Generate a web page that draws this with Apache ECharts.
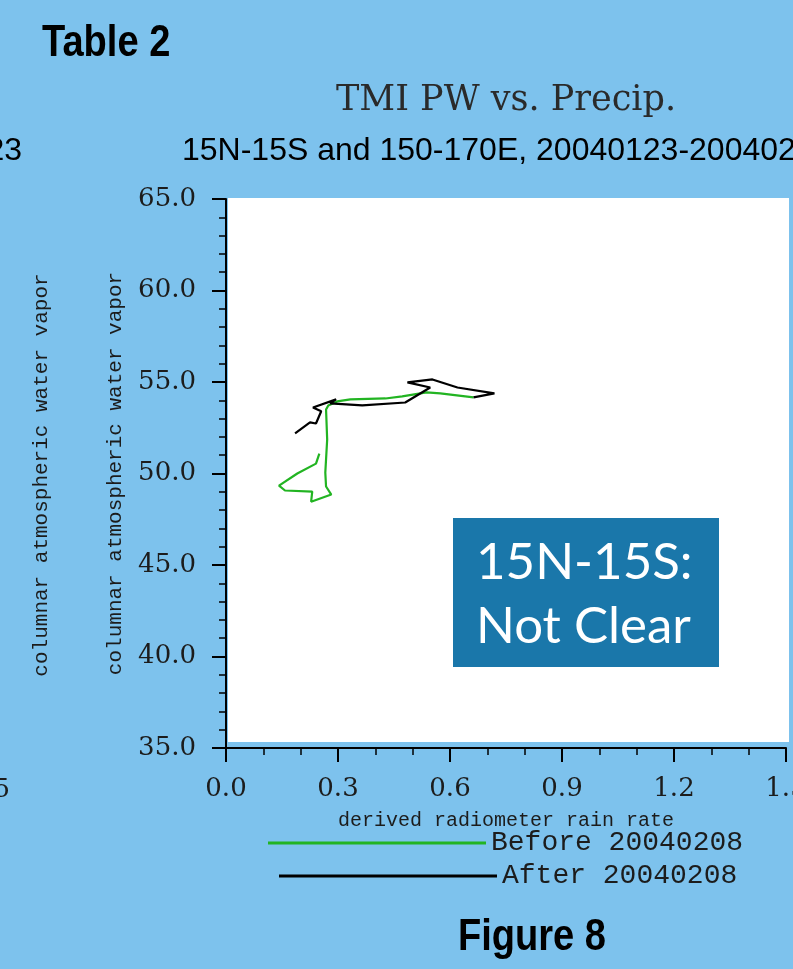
<!DOCTYPE html>
<html>
<head>
<meta charset="utf-8">
<script src="https://cdn.jsdelivr.net/npm/echarts@6/dist/echarts.min.js"></script>
<style>
html,body{margin:0;padding:0;background:#7dc2ed;}
#chart{width:793px;height:969px;}
</style>
</head>
<body>
<div id="chart"></div>
<script>
// ---- data ----
const seriesNames = ['Before 20040208', 'After 20040208'];
// derived radiometer rain rate (x) / columnar atmospheric water vapor (y)
const beforeX = [0.250, 0.241, 0.191, 0.142, 0.158, 0.231, 0.228, 0.282, 0.268, 0.266, 0.271, 0.268, 0.274, 0.298, 0.333, 0.427, 0.472, 0.537, 0.574, 0.663];
const beforeY = [51.09, 50.54, 50.00, 49.34, 49.07, 49.01, 48.46, 48.85, 49.29, 50.05, 51.86, 53.50, 53.72, 53.94, 54.05, 54.10, 54.21, 54.43, 54.38, 54.16];
const afterX = [0.663, 0.719, 0.620, 0.553, 0.486, 0.547, 0.480, 0.365, 0.279, 0.295, 0.233, 0.255, 0.241, 0.225, 0.185];
const afterY = [54.16, 54.38, 54.70, 55.14, 54.98, 54.70, 53.88, 53.72, 53.83, 54.05, 53.61, 53.40, 52.73, 52.79, 52.19];
const xTicks = { min: 0, max: 1.5, interval: 0.3, minorSplit: 3 };
const yTicks = { min: 35, max: 65, interval: 5, minorSplit: 5 };
const titleText = 'TMI PW vs. Precip.';
const subtitleText = '15N-15S and 150-170E, 20040123-20040223';
const xName = 'derived radiometer rain rate';
const yName = 'columnar atmospheric water vapor';

const pairs = (xs, ys) => xs.map((x, i) => [x, ys[i]]);

const chart = echarts.init(document.getElementById('chart'), null, { renderer: 'canvas' });
const MONO = '"Liberation Mono", monospace';
const HERSHEY = '"DejaVu Serif", serif';
const ink = '#1c1c1c';

const option = {
  backgroundColor: '#7dc2ed',
  animation: false,
  grid: { left: 226, top: 199, right: 7, bottom: 221, containLabel: false, outerBoundsMode: 'none' },
  xAxis: {
    type: 'value',
    min: xTicks.min, max: xTicks.max, interval: xTicks.interval,
    name: xName, nameLocation: 'middle', nameGap: 63,
    nameTextStyle: { fontFamily: MONO, fontSize: 20, color: ink },
    axisLine: { onZero: false, lineStyle: { color: '#000', width: 2 } },
    axisTick: { show: true, length: 14, lineStyle: { color: '#000', width: 2 } },
    minorTick: { show: true, splitNumber: xTicks.minorSplit, length: 7, lineStyle: { color: '#000', width: 1.5 } },
    axisLabel: { margin: 28, fontFamily: HERSHEY, fontSize: 26, color: ink, formatter: v => v.toFixed(1) },
    splitLine: { show: false }
  },
  yAxis: {
    type: 'value',
    min: yTicks.min, max: yTicks.max, interval: yTicks.interval,
    name: yName, nameLocation: 'middle', nameGap: 100,
    nameTextStyle: { fontFamily: MONO, fontSize: 21, color: ink },
    axisLine: { onZero: false, lineStyle: { color: '#000', width: 2 } },
    axisTick: { show: true, length: 14, lineStyle: { color: '#000', width: 2 } },
    minorTick: { show: true, splitNumber: yTicks.minorSplit, length: 7, lineStyle: { color: '#000', width: 1.5 } },
    axisLabel: { margin: 30, fontFamily: HERSHEY, fontSize: 26, color: ink, formatter: v => v.toFixed(1) },
    splitLine: { show: false }
  },
  legend: [
    {
      data: [seriesNames[0]], left: 268, top: 829, padding: 0,
      icon: 'rect', itemWidth: 218, itemHeight: 3,
      textStyle: { fontFamily: MONO, fontSize: 28, color: ink }
    },
    {
      data: [seriesNames[1]], left: 279, top: 862, padding: 0,
      icon: 'rect', itemWidth: 218, itemHeight: 3,
      textStyle: { fontFamily: MONO, fontSize: 28, color: ink }
    }
  ],
  series: [
    {
      name: seriesNames[0], type: 'line', data: pairs(beforeX, beforeY),
      showSymbol: false, symbol: 'none', smooth: false,
      color: '#22b422', lineStyle: { color: '#22b422', width: 2.2 }, z: 3
    },
    {
      name: seriesNames[1], type: 'line', data: pairs(afterX, afterY),
      showSymbol: false, symbol: 'none', smooth: false,
      color: '#000000', lineStyle: { color: '#000000', width: 2.2 }, z: 4
    }
  ],
  graphic: [
    // white plotting paper behind the axes
    { type: 'rect', z: -1, shape: { x: 228, y: 198, width: 561, height: 544 }, style: { fill: '#ffffff' } },
    // titles
    { type: 'text', x: 42, y: 44, scaleX: 0.865, style: { text: 'Table 2', font: 'bold 44px "Liberation Sans", sans-serif', fill: '#000', align: 'left', verticalAlign: 'middle' } },
    { type: 'text', x: 506, y: 101, style: { text: titleText, font: '35px "DejaVu Serif", serif', fill: '#2a2a2a', align: 'center', verticalAlign: 'middle' } },
    { type: 'text', x: 182, y: 151, style: { text: subtitleText, font: '32px "Liberation Sans", Arial, sans-serif', fill: '#000', align: 'left', verticalAlign: 'middle' } },
    // remnants of the neighbouring chart at the left edge
    { type: 'text', x: 22, y: 151, style: { text: '23', font: '32px "Liberation Sans", Arial, sans-serif', fill: '#000', align: 'right', verticalAlign: 'middle' } },
    { type: 'text', x: 41, y: 475, rotation: Math.PI / 2, style: { text: yName, font: '21px "Liberation Mono", monospace', fill: ink, align: 'center', verticalAlign: 'middle' } },
    { type: 'text', x: 10, y: 790, style: { text: '1.5', font: '26px "DejaVu Serif", serif', fill: ink, align: 'right', verticalAlign: 'middle' } },
    // annotation box
    { type: 'rect', z: 100, shape: { x: 453, y: 518, width: 266, height: 149 }, style: { fill: '#1a77aa' } },
    { type: 'text', z: 101, x: 476, y: 563, style: { text: '15N-15S:', font: '51px Lato, "Open Sans", sans-serif', fill: '#ffffff', align: 'left', verticalAlign: 'middle' } },
    { type: 'text', z: 101, x: 476, y: 627, style: { text: 'Not Clear', font: '51px Lato, "Open Sans", sans-serif', fill: '#ffffff', align: 'left', verticalAlign: 'middle' } },
    { type: 'text', x: 532, y: 938, scaleX: 0.865, style: { text: 'Figure 8', font: 'bold 44px "Liberation Sans", sans-serif', fill: '#000', align: 'center', verticalAlign: 'middle' } }
  ]
};
chart.setOption(option);
</script>
</body>
</html>
